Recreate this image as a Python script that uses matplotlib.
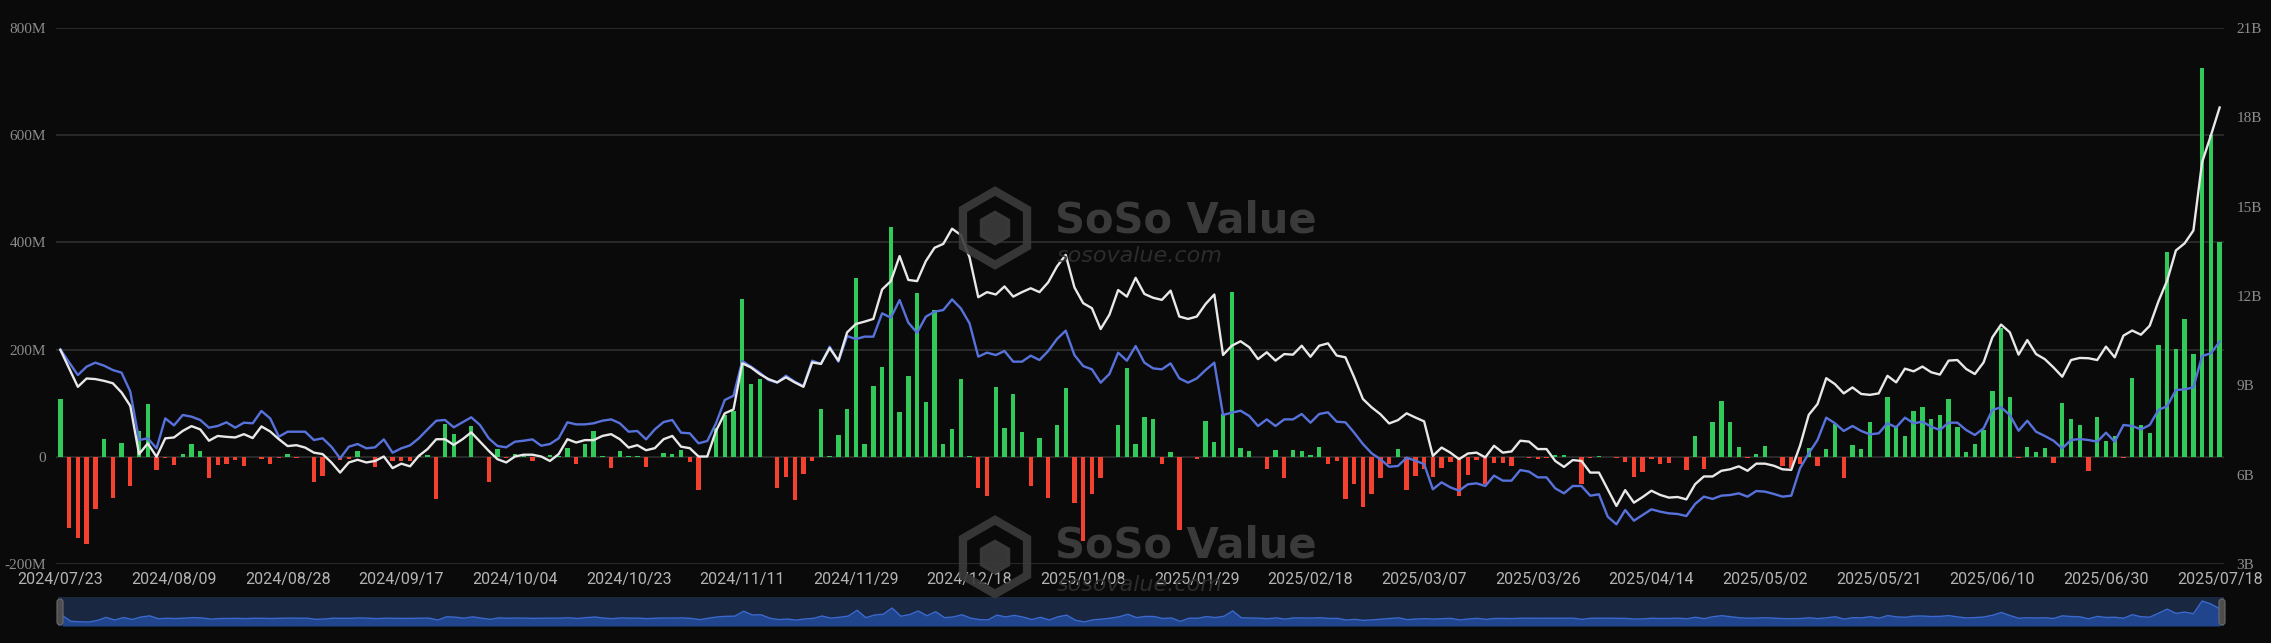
import matplotlib
matplotlib.use("Agg")
import matplotlib.pyplot as plt
import numpy as np
from matplotlib.patches import RegularPolygon, FancyBboxPatch
from matplotlib.transforms import IdentityTransform

# Daily net inflow (M USD), 248 trading days 2024/07/23 - 2025/07/18
flows = [
    107, -132, -151, -162, -98, 33, -77, 26, -54, 49, 98, -24, -3, -16, 4.5, 24, 10.5, -39,
    -15, -13, -6, -18, -0.5, -5, -12.5, -3, 5, -1.7, 0, -47, -36, -0.2, -6, -4, 11, 0,
    -19, 0, -7.5, -7.5, -7.5, 1.5, 3, -79, 61, 42, 0, 57, 0, -47, 14, -2, 5, 2,
    -7.5, 0, 3, 1, 17, -12.5, 24, 48, 2, -20, 11, 1, 1, -19, 0, 7.5, 4.5, 12.5,
    -10, -62, 0, 53, 78, 86, 295, 136, 145, -1, -59, -37, -80, -32, -7.5, 90, 2, 40,
    90, 333, 24, 132, 168, 429, 83, 150, 305, 102, 274, 23, 51, 145, 2, -59, -73, 130,
    53, 117, 47, -55, 36, -76, 59, 128, -86, -158, -69, -39, 0, 59, 166, 23, 74, 70,
    -14, 9, -136, 0, -3.5, 67, 27, 80, 307, 17, 10, 0, -22, 12, -40, 12, 11, 4,
    19, -12.5, -7.5, -78, -50, -93, -70, -40, -12.5, 14, -62, -36, -22, -37, -20, -9, -73, -34,
    -6, -51, -11, -11, -17, 0, -2.5, -4, -2.5, 2.5, 4, 0, -50, -2.5, 1, 0, -2.5, -9,
    -37, -28, -4, -12.5, -11, 0, -24, 39, -22, 64, 105, 64, 19, -1.5, 6, 20, 0, -17,
    -20, -14, 17, -17, 14, 62, -39, 22, 14, 65, 0, 111, 56, 39, 85, 92, 70, 78,
    108, 55, 9, 24, 50, 123, 240, 111, -2.5, 19, 9, 17, -11, 100, 70, 59, -27, 75,
    30, 39, -1.5, 147, 60, 45, 209, 382, 202, 257, 191, 726, 600, 401,
]

# Total net assets (B USD)
tna = [
    10.19, 9.57, 8.95, 9.23, 9.21, 9.15, 9.07, 8.76, 8.31, 6.69, 7.05, 6.60, 7.22, 7.25, 7.47, 7.63, 7.52, 7.14,
    7.30, 7.27, 7.25, 7.36, 7.23, 7.62, 7.45, 7.19, 6.96, 6.99, 6.91, 6.74, 6.69, 6.41, 6.07, 6.41, 6.50, 6.41,
    6.46, 6.61, 6.22, 6.37, 6.28, 6.63, 6.86, 7.19, 7.19, 7.00, 7.19, 7.42, 7.11, 6.80, 6.52, 6.41, 6.61, 6.67,
    6.67, 6.61, 6.46, 6.69, 7.19, 7.08, 7.16, 7.16, 7.30, 7.36, 7.19, 6.91, 6.99, 6.82, 6.89, 7.19, 7.30, 6.94,
    6.89, 6.61, 6.61, 7.47, 8.06, 8.19, 9.74, 9.60, 9.38, 9.21, 9.10, 9.27, 9.10, 8.95, 9.77, 9.72, 10.25, 9.83,
    10.78, 11.06, 11.14, 11.23, 12.22, 12.50, 13.34, 12.54, 12.50, 13.17, 13.62, 13.75, 14.26, 14.05, 13.30, 11.96, 12.13, 12.05,
    12.32, 11.98, 12.13, 12.26, 12.13, 12.46, 12.99, 13.38, 12.29, 11.76, 11.59, 10.89, 11.37, 12.20, 11.98, 12.61, 12.07, 11.94,
    11.87, 12.18, 11.31, 11.23, 11.31, 11.73, 12.05, 10.02, 10.33, 10.48, 10.28, 9.88, 10.11, 9.83, 10.05, 10.03, 10.33, 9.96,
    10.33, 10.41, 10.00, 9.94, 9.27, 8.54, 8.26, 8.03, 7.72, 7.83, 8.06, 7.92, 7.79, 6.63, 6.91, 6.74, 6.52, 6.71,
    6.74, 6.58, 6.97, 6.74, 6.78, 7.14, 7.11, 6.86, 6.86, 6.46, 6.26, 6.49, 6.46, 6.07, 6.07, 5.51, 4.95, 5.48,
    5.06, 5.25, 5.46, 5.32, 5.23, 5.25, 5.17, 5.68, 5.94, 5.94, 6.13, 6.18, 6.28, 6.13, 6.37, 6.37, 6.30, 6.18,
    6.16, 6.97, 8.01, 8.37, 9.24, 9.04, 8.73, 8.93, 8.71, 8.68, 8.73, 9.32, 9.10, 9.56, 9.47, 9.63, 9.44, 9.36,
    9.83, 9.85, 9.55, 9.38, 9.77, 10.61, 11.04, 10.78, 10.03, 10.52, 10.05, 9.88, 9.60, 9.29, 9.85, 9.92, 9.91, 9.85,
    10.30, 9.94, 10.67, 10.84, 10.70, 11.00, 11.82, 12.52, 13.53, 13.77, 14.20, 16.50, 17.39, 18.33,
]

# ETH price (USD), hidden axis
eth_price = [
    3403, 3257, 3115, 3209, 3254, 3220, 3171, 3142, 2929, 2388, 2407, 2295, 2630, 2552, 2668, 2649, 2612, 2526,
    2545, 2586, 2526, 2582, 2575, 2713, 2630, 2425, 2481, 2481, 2481, 2388, 2407, 2313, 2183, 2313, 2343, 2295,
    2306, 2395, 2246, 2295, 2328, 2407, 2507, 2604, 2612, 2530, 2586, 2642, 2556, 2407, 2321, 2306, 2369, 2380,
    2395, 2324, 2343, 2407, 2586, 2563, 2563, 2575, 2604, 2619, 2575, 2481, 2489, 2395, 2507, 2589, 2612, 2470,
    2463, 2351, 2377, 2575, 2836, 2884, 3272, 3209, 3142, 3060, 3030, 3108, 3041, 2992, 3276, 3239, 3433, 3265,
    3552, 3518, 3545, 3545, 3806, 3757, 3955, 3701, 3589, 3768, 3824, 3843, 3962, 3862, 3694, 3321, 3366, 3339,
    3384, 3265, 3265, 3332, 3283, 3384, 3518, 3612, 3339, 3216, 3179, 3030, 3127, 3365, 3276, 3440, 3254, 3190,
    3179, 3246, 3078, 3030, 3078, 3171, 3254, 2668, 2694, 2716, 2657, 2545, 2619, 2545, 2619, 2619, 2679, 2582,
    2679, 2698, 2593, 2586, 2470, 2343, 2239, 2172, 2089, 2097, 2190, 2157, 2119, 1836, 1914, 1858, 1821, 1892,
    1903, 1873, 1989, 1933, 1933, 2052, 2034, 1970, 1970, 1847, 1791, 1873, 1873, 1765, 1780, 1530, 1444, 1604,
    1485, 1548, 1612, 1586, 1567, 1560, 1537, 1672, 1754, 1728, 1765, 1772, 1791, 1754, 1817, 1810, 1784, 1754,
    1765, 2071, 2239, 2388, 2638, 2575, 2489, 2545, 2489, 2451, 2463, 2575, 2530, 2638, 2575, 2593, 2537, 2500,
    2582, 2582, 2500, 2444, 2519, 2724, 2754, 2668, 2492, 2604, 2481, 2433, 2380, 2295, 2388, 2399, 2388, 2369,
    2470, 2369, 2556, 2545, 2507, 2556, 2724, 2768, 2948, 2955, 2977, 3328, 3358, 3489,
]

date_labels = ["2024/07/23", "2024/08/09", "2024/08/28", "2024/09/17", "2024/10/04",
               "2024/10/23", "2024/11/11", "2024/11/29", "2024/12/18", "2025/01/08",
               "2025/01/29", "2025/02/18", "2025/03/07", "2025/03/26", "2025/04/14",
               "2025/05/02", "2025/05/21", "2025/06/10", "2025/06/30", "2025/07/18"]

left_ticks = [-200, 0, 200, 400, 600, 800]
left_labels = ["-200M", "0", "200M", "400M", "600M", "800M"]
right_ticks = [3, 6, 9, 12, 15, 18, 21]
right_labels = ["3B", "6B", "9B", "12B", "15B", "18B", "21B"]

BG = "#0a0a0a"
GREEN = "#30c95a"
RED = "#f4402f"
WHITE = "#e8e8e8"
BLUE = "#5872dc"
AXIS_TXT = "#8c8c8c"

W, H = 2271, 643
fig = plt.figure(figsize=(W / 100, H / 100), dpi=100)
fig.patch.set_facecolor(BG)

x = np.arange(len(flows))
flows_arr = np.array(flows)

# main chart
ax = fig.add_axes([56 / W, 79 / H, 2168 / W, 536 / H])
ax.set_facecolor(BG)
colors = [GREEN if v >= 0 else RED for v in flows]
ax.bar(x, flows_arr, width=0.5, color=colors, zorder=2)
ax.set_xlim(-0.5, len(flows) - 0.5)
ax.set_ylim(-200, 800)
ax.set_yticks(left_ticks)
ax.set_yticklabels(left_labels, fontfamily="Liberation Serif", fontsize=11, color=AXIS_TXT)
ax.yaxis.grid(True, color="#2c2c2c", linewidth=1.3, zorder=0)
ax.set_axisbelow(True)
ax.set_xticks(x[::13])
ax.set_xticklabels(date_labels, fontfamily="Roboto", fontsize=11.5, color="#b4b4b4")
ax.tick_params(axis="y", length=0, pad=7)
ax.tick_params(axis="x", length=0, pad=6)
for s in ax.spines.values():
    s.set_visible(False)

# ETH price on hidden axis
axb = ax.twinx()
axb.plot(x, eth_price, color=BLUE, linewidth=1.7, zorder=3)
axb.set_ylim(1000, 7000)
axb.set_yticks([])
for s in axb.spines.values():
    s.set_visible(False)

# total net assets on right axis
axw = ax.twinx()
axw.plot(x, tna, color=WHITE, linewidth=1.7, zorder=4)
axw.set_ylim(3, 21)
axw.set_yticks(right_ticks)
axw.set_yticklabels(right_labels, fontfamily="Liberation Serif", fontsize=11, color=AXIS_TXT)
axw.tick_params(axis="y", length=0, pad=9)
for s in axw.spines.values():
    s.set_visible(False)

# data zoom slider at the bottom
axs = fig.add_axes([58 / W, 17 / H, 2166 / W, 29 / H])
axs.set_facecolor("#1a2740")
axs.fill_between(x, flows_arr, -330, color="#21458c", linewidth=0)
axs.plot(x, flows_arr, color="#3a6ad0", linewidth=1.0)
axs.set_xlim(-0.5, len(flows) - 0.5)
axs.set_ylim(-330, 895)
axs.set_xticks([])
axs.set_yticks([])
for s in axs.spines.values():
    s.set_visible(False)

for hx in (60, 2222):
    handle = FancyBboxPatch((hx - 3, H - 625), 6, 26, boxstyle="round,pad=0,rounding_size=3",
                            transform=IdentityTransform(), facecolor="#4d4d4d",
                            edgecolor="#6a6a6a", linewidth=0.8, zorder=10)
    fig.add_artist(handle)


# SoSoValue watermarks
def watermark(icon_x, icon_y, text_y, url_y):
    hexa = RegularPolygon((icon_x, H - icon_y), numVertices=6, radius=37,
                          transform=IdentityTransform(), facecolor="none",
                          edgecolor="#3b3b3b", linewidth=6, alpha=0.9, zorder=20)
    fig.add_artist(hexa)
    inner = RegularPolygon((icon_x, H - icon_y), numVertices=6, radius=16,
                           transform=IdentityTransform(), facecolor="#3b3b3b",
                           edgecolor="#3b3b3b", linewidth=2, alpha=0.9, zorder=20)
    fig.add_artist(inner)
    fig.text(1055 / W, 1 - text_y / H, "SoSo Value", fontfamily="DejaVu Sans",
             fontweight="bold", fontsize=30, color="#404040", alpha=0.9,
             ha="left", va="center", zorder=20)
    fig.text(1057 / W, 1 - url_y / H, "sosovalue.com", fontfamily="DejaVu Sans",
             style="italic", fontsize=16, color="#303030", alpha=0.9,
             ha="left", va="center", zorder=20)


watermark(995, 228, 221, 256)
watermark(995, 557, 545, 585)

fig.savefig("out.png", dpi=100, facecolor=BG)
